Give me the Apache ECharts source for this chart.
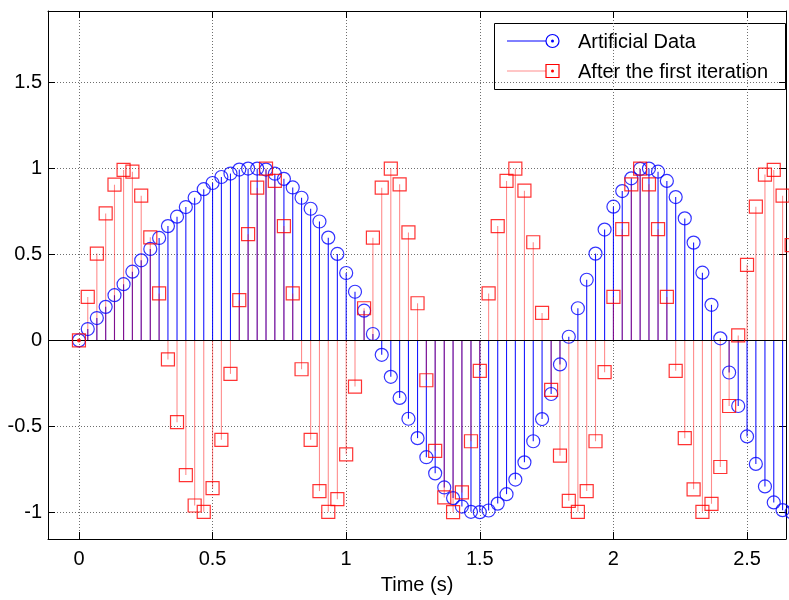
<!DOCTYPE html>
<html>
<head>
<meta charset="utf-8">
<script src="https://cdn.jsdelivr.net/npm/echarts@6/dist/echarts.min.js"></script>
<style>
  html, body { margin: 0; padding: 0; background: #fff; }
  #chart { width: 789px; height: 600px; }
</style>
</head>
<body>
<div id="chart"></div>
<script>
// sample times (s)
const times = [
  0, 0.033, 0.067, 0.1, 0.133, 0.167, 0.2, 0.233, 0.267, 0.3,
  0.333, 0.367, 0.4, 0.433, 0.467, 0.5, 0.533, 0.567, 0.6, 0.633,
  0.667, 0.7, 0.733, 0.767, 0.8, 0.833, 0.867, 0.9, 0.933, 0.967,
  1.0, 1.033, 1.067, 1.1, 1.133, 1.167, 1.2, 1.233, 1.267, 1.3,
  1.333, 1.367, 1.4, 1.433, 1.467, 1.5, 1.533, 1.567, 1.6, 1.633,
  1.667, 1.7, 1.733, 1.767, 1.8, 1.833, 1.867, 1.9, 1.933, 1.967,
  2.0, 2.033, 2.067, 2.1, 2.133, 2.167, 2.2, 2.233, 2.267, 2.3,
  2.333, 2.367, 2.4, 2.433, 2.467, 2.5, 2.533, 2.567, 2.6, 2.633,
  2.667
];

// "Artificial Data"
const artificial = [
  0, 0.066, 0.13, 0.195, 0.263, 0.327, 0.40, 0.466, 0.532, 0.596,
  0.665, 0.72, 0.776, 0.83, 0.88, 0.916, 0.951, 0.971, 0.994, 1.0,
  1.0, 0.994, 0.97, 0.94, 0.89, 0.83, 0.766, 0.692, 0.598, 0.503,
  0.392, 0.283, 0.173, 0.037, -0.084, -0.212, -0.335, -0.456, -0.569, -0.68,
  -0.774, -0.856, -0.918, -0.967, -0.998, -1.0, -0.99, -0.95, -0.895, -0.81,
  -0.71, -0.587, -0.458, -0.312, -0.14, 0.021, 0.187, 0.353, 0.505, 0.645,
  0.778, 0.869, 0.943, 0.998, 1.0, 0.982, 0.928, 0.834, 0.71, 0.569,
  0.394, 0.207, 0.012, -0.187, -0.382, -0.559, -0.719, -0.85, -0.943, -0.988,
  -1.0
];

// "After the first iteration"
const firstIter = [
  0, 0.253, 0.505, 0.739, 0.906, 0.992, 0.982, 0.842, 0.60, 0.273,
  -0.111, -0.476, -0.784, -0.961, -0.998, -0.86, -0.579, -0.195, 0.234, 0.618,
  0.889, 1.0, 0.928, 0.665, 0.273, -0.168, -0.579, -0.877, -0.998, -0.924,
  -0.663, -0.269, 0.187, 0.598, 0.889, 1.0, 0.908, 0.628, 0.216, -0.232,
  -0.643, -0.914, -1.0, -0.885, -0.587, -0.177, 0.273, 0.665, 0.928, 1.0,
  0.871, 0.571, 0.16, -0.288, -0.671, -0.934, -0.998, -0.877, -0.587, -0.185,
  0.253, 0.647, 0.908, 1.0, 0.908, 0.647, 0.253, -0.177, -0.569, -0.867,
  -0.998, -0.951, -0.737, -0.382, 0.029, 0.44, 0.778, 0.965, 0.992, 0.842,
  0.554
];

const seriesNames = ["Artificial Data", "After the first iteration"];
const xTicks = [0, 0.5, 1, 1.5, 2, 2.5];
const yTicks = [-1, -0.5, 0, 0.5, 1, 1.5];
const xRange = [-0.1158, 2.6458];
const yRange = [-1.156, 1.917];

const FONT = "'Liberation Sans', Arial, sans-serif";
const BLUE = "#0000ff";
const RED = "#ff0000";
const GRID = "#6e6e6e";

function tickLabel(list) {
  return (val) => {
    const hit = list.find((t) => Math.abs(t - val) < 1e-6);
    return hit === undefined ? "" : String(hit);
  };
}

function stems(values, color, z) {
  return {
    type: "custom",
    z: z,
    silent: true,
    data: times.map((t, i) => [t, values[i]]),
    renderItem: (params, api) => {
      const top = api.coord([api.value(0), api.value(1)]);
      const base = api.coord([api.value(0), 0]);
      return {
        type: "line",
        shape: { x1: base[0], y1: base[1], x2: top[0], y2: top[1] },
        style: { stroke: color, lineWidth: 1.1 },
      };
    },
  };
}

function markers(name, values, symbol, color, z) {
  return {
    name: name,
    type: "scatter",
    z: z,
    clip: false,
    symbol: symbol,
    symbolSize: 13,
    data: times.map((t, i) => [t, values[i]]),
    itemStyle: { color: "transparent", borderColor: color, borderWidth: 1.2 },
    emphasis: { disabled: true },
  };
}

const frameAxis = (extra) => Object.assign({
  type: "value",
  splitNumber: 6,
  axisLine: { show: true, onZero: false, lineStyle: { color: "#000", width: 1 } },
  axisTick: { show: true, inside: true, length: 7, lineStyle: { color: "#000" } },
  axisLabel: { show: false },
  splitLine: { show: false },
}, extra);

const chartOption = {
  animation: false,
  grid: { left: 48, right: 2, top: 11, bottom: 60 },
  xAxis: [
    frameAxis({
      min: xRange[0], max: xRange[1], position: "bottom",
      axisLabel: {
        show: true, formatter: tickLabel(xTicks), color: "#000",
        fontFamily: FONT, fontSize: 20, margin: 10,
      },
      splitLine: { show: true, lineStyle: { color: GRID, type: [1, 2], width: 1 } },
      name: "Time (s)", nameLocation: "middle", nameGap: 36,
      nameTextStyle: { color: "#000", fontFamily: FONT, fontSize: 20 },
    }),
    frameAxis({ min: xRange[0], max: xRange[1], position: "top" }),
  ],
  yAxis: [
    frameAxis({
      min: yRange[0], max: yRange[1], position: "left",
      axisLabel: {
        show: true, formatter: tickLabel(yTicks), color: "#000",
        fontFamily: FONT, fontSize: 20, margin: 6,
      },
      splitLine: { show: true, lineStyle: { color: GRID, type: [1, 2], width: 1 } },
    }),
    frameAxis({ min: yRange[0], max: yRange[1], position: "right" }),
  ],
  series: [
    stems(artificial, "rgba(0,0,255,0.9)", 2),
    stems(firstIter, "rgba(255,0,0,0.45)", 3),
    Object.assign(markers(seriesNames[0], artificial, "circle", BLUE, 4), {
      markLine: {
        silent: true,
        symbol: ["none", "none"],
        label: { show: false },
        lineStyle: { color: "#000", type: "solid", width: 1 },
        data: [{ yAxis: 0 }],
      },
    }),
    markers(seriesNames[1], firstIter, "rect", RED, 5),
    {
      type: "scatter",
      z: 6,
      symbolSize: 4,
      data: [[times[0], firstIter[0]]],
      itemStyle: { color: RED },
      emphasis: { disabled: true },
    },
  ],
  graphic: [
    {
      type: "group",
      x: 494,
      y: 23,
      z: 100,
      children: [
        { type: "rect", shape: { x: 0.5, y: 0.5, width: 291, height: 66 },
          style: { fill: "#fff", stroke: "#000", lineWidth: 1 } },
        { type: "line", shape: { x1: 13, y1: 18, x2: 52, y2: 18 },
          style: { stroke: BLUE, lineWidth: 1 } },
        { type: "circle", shape: { cx: 58.5, cy: 18, r: 6.5 },
          style: { fill: "none", stroke: BLUE, lineWidth: 1.2 } },
        { type: "circle", shape: { cx: 58.5, cy: 18, r: 1.5 },
          style: { fill: BLUE } },
        { type: "text", x: 84, y: 19,
          style: { text: seriesNames[0], font: "20px " + FONT, fill: "#000", verticalAlign: "middle" } },
        { type: "line", shape: { x1: 13, y1: 48, x2: 52, y2: 48 },
          style: { stroke: "rgba(255,0,0,0.45)", lineWidth: 1 } },
        { type: "rect", shape: { x: 52, y: 41.5, width: 13, height: 13 },
          style: { fill: "none", stroke: RED, lineWidth: 1.2 } },
        { type: "circle", shape: { cx: 58.5, cy: 48, r: 1.5 },
          style: { fill: RED } },
        { type: "text", x: 84, y: 49,
          style: { text: seriesNames[1], font: "20px " + FONT, fill: "#000", verticalAlign: "middle" } },
      ],
    },
  ],
};

const myChart = echarts.init(document.getElementById("chart"));
myChart.setOption(chartOption);
</script>
</body>
</html>
